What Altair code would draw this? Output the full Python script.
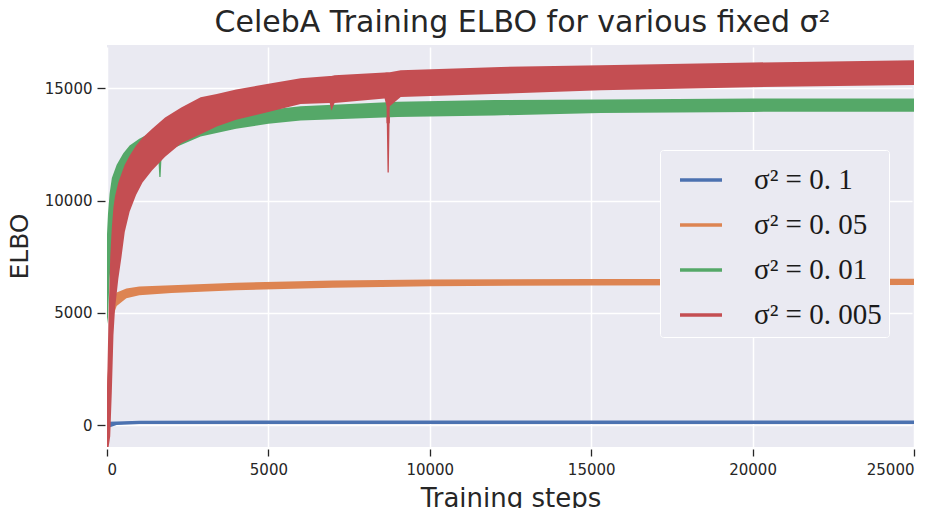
import altair as alt
import pandas as pd

labels = ["σ² = 0. 1", "σ² = 0. 05", "σ² = 0. 01", "σ² = 0. 005"]
colors = ["#4C72B0", "#DD8452", "#55A868", "#C44E52"]

x_ticks = [0, 5000, 10000, 15000, 20000, 25000]
y_ticks = [0, 5000, 10000, 15000]

# sigma^2 = 0.1 (blue) : band envelope (lower / upper ELBO)
blue_step = [0, 300, 1000, 5000, 15000, 25000]
blue_lo = [-150, 0, 40, 50, 50, 50]
blue_hi = [150, 160, 190, 200, 200, 200]

# sigma^2 = 0.05 (orange)
orange_step = [0, 100, 200, 300, 600, 1000, 2000, 4000, 7000, 10000, 15000, 20000, 25000]
orange_lo = [0, 3200, 4900, 5300, 5650, 5780, 5880, 6000, 6120, 6180, 6220, 6230, 6240]
orange_hi = [500, 4600, 5600, 5900, 6080, 6170, 6230, 6340, 6440, 6480, 6500, 6510, 6520]

# sigma^2 = 0.01 (green)
green_step = [0, 30, 80, 150, 300, 500, 700, 1000, 1400, 1590, 1620, 1660, 1690,
              2000, 2900, 4000, 5000, 6000, 9000, 12000, 15300, 20000, 25000]
green_lo = [4500, 4800, 6500, 7900, 9400, 10300, 10800, 11300, 11750, 11900, 11050, 11050, 11950,
            12300, 12850, 13200, 13420, 13570, 13720, 13790, 13900, 13950, 13960]
green_hi = [8500, 9400, 10300, 11000, 11600, 12100, 12450, 12750, 13050, 13150, 13150, 13150, 13200,
            13400, 13700, 13900, 14050, 14200, 14400, 14480, 14500, 14550, 14550]

# sigma^2 = 0.005 (red)
red_step = [0, 50, 100, 150, 200, 250, 350, 450, 550, 700, 900, 1100, 1400, 1800, 2300, 2900,
            3400, 4000, 5000, 6000, 6900, 6950, 7050, 8600, 8660, 8690, 8730, 8760,
            9100, 12200, 15300, 20000, 25000]
red_lo = [-980, -980, -500, 1500, 4000, 5200, 6500, 7500, 8600, 9500, 10250, 10800, 11350, 11950, 12550, 12950,
          13300, 13600, 13950, 14300, 14350, 14000, 14350, 14550, 14200, 11250, 11250, 14200,
          14610, 14760, 14910, 15050, 15150]
red_hi = [1500, 5000, 7500, 8800, 9700, 10200, 10800, 11200, 11600, 12000, 12450, 12800, 13200, 13700, 14150, 14600,
          14750, 14950, 15200, 15450, 15550, 15550, 15580, 15700, 15720, 15720, 15720, 15720,
          15800, 15950, 16030, 16150, 16250]

series = [
    (labels[0], blue_step, blue_lo, blue_hi),
    (labels[1], orange_step, orange_lo, orange_hi),
    (labels[2], green_step, green_lo, green_hi),
    (labels[3], red_step, red_lo, red_hi),
]

rows = []
for name, st, lo, hi in series:
    for s, a, b in zip(st, lo, hi):
        rows.append({"series": name, "step": s, "lo": a, "hi": b, "mid": (a + b) / 2})
df = pd.DataFrame(rows)

color_scale = alt.Scale(domain=labels, range=colors)
x_enc = alt.X("step:Q", scale=alt.Scale(domain=[0, 25000], nice=False, zero=False),
              axis=alt.Axis(values=x_ticks, title="Training steps", format="d"))
y_enc = alt.Y("mid:Q", scale=alt.Scale(domain=[-980, 16930], nice=False, zero=False),
              axis=alt.Axis(values=y_ticks, title="ELBO", format="d"))

legend = alt.Legend(
    title=None, orient="none", legendX=553, legendY=105,
    fillColor="#EAEAF2", strokeColor="white", padding=7,
    symbolType="stroke", symbolSize=1764, symbolStrokeWidth=3.5, symbolOffset=11,
    labelFont="Liberation Serif", labelFontSize=29, labelColor="#1a1a1a",
    labelOffset=30, rowPadding=7, cornerRadius=3, labelLimit=400,
    labelExpr="datum.label + '\u2002'",
)

lines = alt.Chart(df).mark_line(strokeWidth=2, clip=True).encode(
    x=x_enc, y=y_enc,
    color=alt.Color("series:N", scale=color_scale, legend=legend, sort=labels),
)

layers = [lines]
for name, _, _, _ in series:
    layers.append(
        alt.Chart(df).transform_filter(alt.datum.series == name).mark_area(clip=True).encode(
            x=alt.X("step:Q"),
            y=alt.Y("lo:Q"),
            y2="hi:Q",
            color=alt.Color("series:N", scale=color_scale, legend=None),
        )
    )

chart = alt.layer(*layers).properties(
    width=807, height=402,
    autosize=alt.AutoSizeParams(type="none"),
    padding={"left": 99, "top": 37, "right": 20, "bottom": 61},
    title=alt.TitleParams(
        "CelebA Training ELBO for various fixed σ²", font="DejaVu Sans", fontSize=30,
        fontWeight="normal", color="#262626", anchor="middle", frame="group", offset=7, dx=12,
    ),
).configure_view(fill="#EAEAF2", stroke=None).configure_axis(
    grid=True, gridColor="white", gridWidth=1.5, domain=False, offset=2,
    tickColor="#262626", tickSize=8, tickWidth=1.3,
    labelFont="DejaVu Sans", labelFontSize=15, labelColor="#262626", labelPadding=5,
    titleFont="DejaVu Sans", titleColor="#262626", titleFontWeight="normal",
).configure_axisY(titlePadding=12, titleFontSize=25).configure_axisX(
    titlePadding=8, titleFontSize=26, labelPadding=6, tickSize=7)

chart.save("out.html", embed_options={"renderer": "svg", "actions": False})
